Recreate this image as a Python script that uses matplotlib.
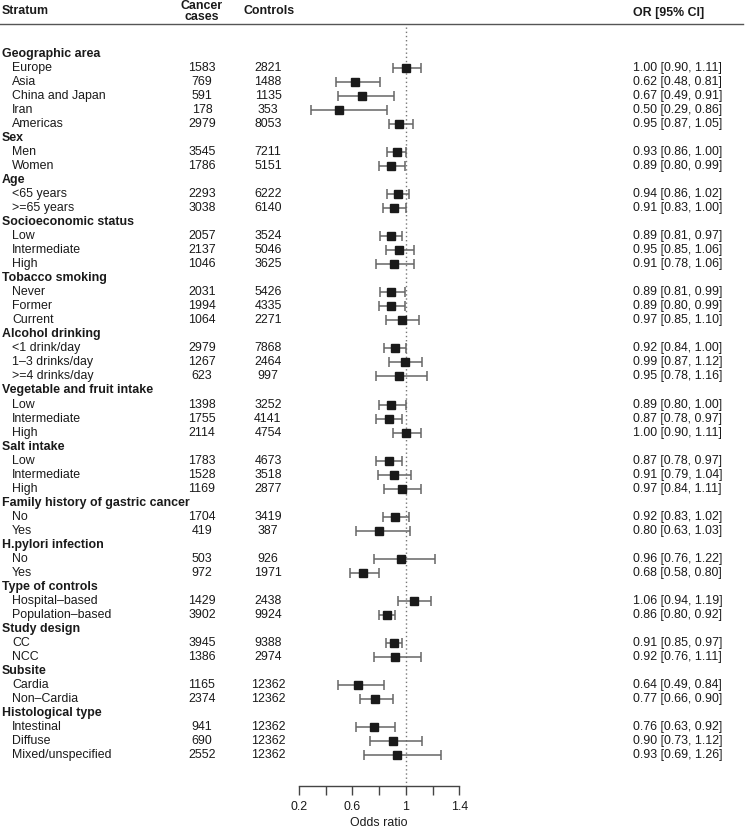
import matplotlib
matplotlib.use("Agg")
import matplotlib.pyplot as plt
import matplotlib.transforms as mtransforms
from matplotlib.lines import Line2D

plt.rcParams['font.family'] = ['Liberation Sans', 'DejaVu Sans']

# ---------------- data ----------------
group_names = ["Geographic area", "Sex", "Age", "Socioeconomic status", "Tobacco smoking",
               "Alcohol drinking", "Vegetable and fruit intake", "Salt intake",
               "Family history of gastric cancer", "H.pylori infection", "Type of controls",
               "Study design", "Subsite", "Histological type"]
group_sizes = [5, 2, 2, 3, 3, 3, 3, 3, 2, 2, 2, 2, 2, 3]

labels = ["Europe", "Asia", "China and Japan", "Iran", "Americas",
          "Men", "Women",
          "<65 years", ">=65 years",
          "Low", "Intermediate", "High",
          "Never", "Former", "Current",
          "<1 drink/day", "1–3 drinks/day", ">=4 drinks/day",
          "Low", "Intermediate", "High",
          "Low", "Intermediate", "High",
          "No", "Yes",
          "No", "Yes",
          "Hospital–based", "Population–based",
          "CC", "NCC",
          "Cardia", "Non–Cardia",
          "Intestinal", "Diffuse", "Mixed/unspecified"]

cases = [1583, 769, 591, 178, 2979,
         3545, 1786,
         2293, 3038,
         2057, 2137, 1046,
         2031, 1994, 1064,
         2979, 1267, 623,
         1398, 1755, 2114,
         1783, 1528, 1169,
         1704, 419,
         503, 972,
         1429, 3902,
         3945, 1386,
         1165, 2374,
         941, 690, 2552]

controls = [2821, 1488, 1135, 353, 8053,
            7211, 5151,
            6222, 6140,
            3524, 5046, 3625,
            5426, 4335, 2271,
            7868, 2464, 997,
            3252, 4141, 4754,
            4673, 3518, 2877,
            3419, 387,
            926, 1971,
            2438, 9924,
            9388, 2974,
            12362, 12362,
            12362, 12362, 12362]

odds = [1.00, 0.62, 0.67, 0.50, 0.95,
        0.93, 0.89,
        0.94, 0.91,
        0.89, 0.95, 0.91,
        0.89, 0.89, 0.97,
        0.92, 0.99, 0.95,
        0.89, 0.87, 1.00,
        0.87, 0.91, 0.97,
        0.92, 0.80,
        0.96, 0.68,
        1.06, 0.86,
        0.91, 0.92,
        0.64, 0.77,
        0.76, 0.90, 0.93]

ci_low = [0.90, 0.48, 0.49, 0.29, 0.87,
          0.86, 0.80,
          0.86, 0.83,
          0.81, 0.85, 0.78,
          0.81, 0.80, 0.85,
          0.84, 0.87, 0.78,
          0.80, 0.78, 0.90,
          0.78, 0.79, 0.84,
          0.83, 0.63,
          0.76, 0.58,
          0.94, 0.80,
          0.85, 0.76,
          0.49, 0.66,
          0.63, 0.73, 0.69]

ci_high = [1.11, 0.81, 0.91, 0.86, 1.05,
           1.00, 0.99,
           1.02, 1.00,
           0.97, 1.06, 1.06,
           0.99, 0.99, 1.10,
           1.00, 1.12, 1.16,
           1.00, 0.97, 1.11,
           0.97, 1.04, 1.11,
           1.02, 1.03,
           1.22, 0.80,
           1.19, 0.92,
           0.97, 1.11,
           0.84, 0.90,
           0.92, 1.12, 1.26]

x_ticks = [0.2, 0.4, 0.6, 0.8, 1.0, 1.2, 1.4]
x_ticklabels = ["0.2", "", "0.6", "", "1", "", "1.4"]

# ---------------- layout ----------------
W, H = 750, 831
fig = plt.figure(figsize=(W / 100, H / 100), dpi=100)

row0_px, row_step = 54.0, 14.02
axis_px = 786.0
x_lo_px, x_hi_px = 299.0, 459.3

def px2row(p):
    return (p - row0_px) / row_step

ax = fig.add_axes([x_lo_px / W, (H - axis_px) / H, (x_hi_px - x_lo_px) / W, axis_px / H])
ax.set_xlim(0.2, 1.4)
ax.set_ylim(px2row(axis_px), px2row(0))
ax.patch.set_alpha(0)

txt_color = '#1a1a1a'
fs = 8.9
blend = mtransforms.blended_transform_factory(fig.transFigure, ax.transData)

# Build rows
row = 0
item_rows = []
k = 0
for gname, gsize in zip(group_names, group_sizes):
    ax.text(2 / W, row, gname, transform=blend, ha='left', va='center',
            fontsize=fs, fontweight='bold', color=txt_color)
    row += 1
    for _ in range(gsize):
        item_rows.append(row)
        ax.text(12 / W, row, labels[k], transform=blend, ha='left', va='center',
                fontsize=fs, color=txt_color)
        ax.text(202 / W, row, str(cases[k]), transform=blend, ha='center', va='center',
                fontsize=fs, color=txt_color)
        ax.text(268 / W, row, str(controls[k]), transform=blend, ha='center', va='center',
                fontsize=fs, color=txt_color)
        ax.text(633 / W, row, f"{odds[k]:.2f} [{ci_low[k]:.2f}, {ci_high[k]:.2f}]",
                transform=blend, ha='left', va='center', fontsize=fs, color=txt_color)
        row += 1
        k += 1

# Reference line
ax.vlines(1.0, px2row(27), px2row(axis_px), colors='#777777', linestyles=(0, (1, 2)),
          linewidth=1.0, zorder=1)

# CIs and points
xerr = [[o - l for o, l in zip(odds, ci_low)], [h - o for o, h in zip(odds, ci_high)]]
ax.errorbar(odds, item_rows, xerr=xerr, fmt='none', ecolor='#666666', elinewidth=1.1,
            capsize=3.4, capthick=1.1, zorder=2)
ax.plot(odds, item_rows, 's', color='#1a1a1a', markersize=5.2, zorder=3)

# Header
ax.text(2 / W, px2row(11), "Stratum", transform=blend, ha='left', va='center',
        fontsize=fs, fontweight='bold', color=txt_color)
ax.text(202 / W, px2row(11.5), "Cancer\ncases", transform=blend, ha='center', va='center',
        fontsize=fs, fontweight='bold', color=txt_color, linespacing=0.95)
ax.text(244 / W, px2row(11), "Controls", transform=blend, ha='left', va='center',
        fontsize=fs, fontweight='bold', color=txt_color)
ax.text(633 / W, px2row(12.7), "OR [95% CI]", transform=blend, ha='left', va='center',
        fontsize=fs, fontweight='bold', color=txt_color)
fig.add_artist(Line2D([0, 743 / W], [px2row(24)] * 2, transform=blend,
                      color='#555555', linewidth=1.0))

# Axis
for s in ['top', 'right', 'left']:
    ax.spines[s].set_visible(False)
ax.spines['bottom'].set_color('#444444')
ax.spines['bottom'].set_linewidth(1.0)
ax.set_yticks([])
ax.set_xticks(x_ticks)
ax.set_xticklabels(x_ticklabels)
ax.tick_params(axis='x', direction='out', length=6.5, width=1.0, color='#444444',
               labelsize=fs, labelcolor=txt_color, pad=4)
ax.set_xlabel("Odds ratio", fontsize=fs, color=txt_color, labelpad=3.5)

fig.savefig("out.png", dpi=100)
